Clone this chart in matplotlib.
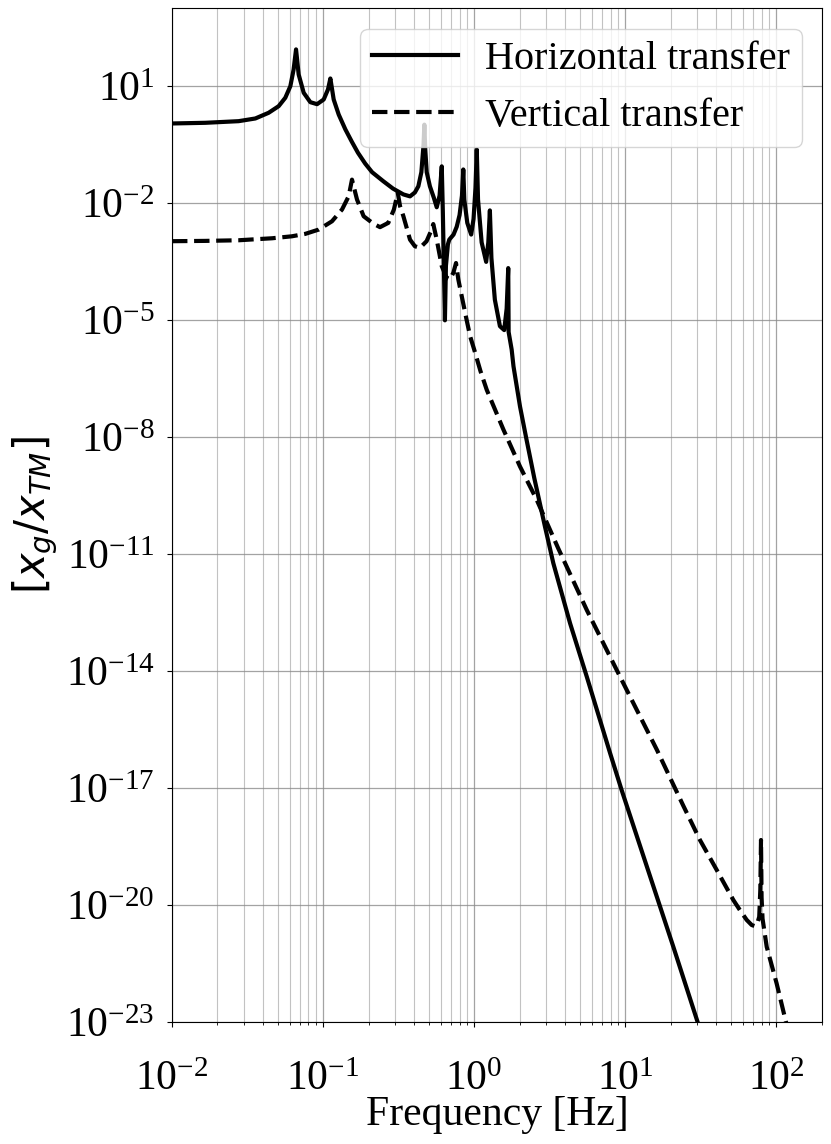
import numpy as np
import matplotlib
matplotlib.use('Agg')
import matplotlib.pyplot as plt
from matplotlib.ticker import NullLocator

plt.rcParams['font.family'] = ['Liberation Serif', 'DejaVu Serif']
plt.rcParams['mathtext.fontset'] = 'dejavusans'

# Horizontal transfer: frequency [Hz] and log10 of magnitude
horiz_freq = [0.01, 0.0166, 0.0276, 0.0356, 0.0436, 0.0508, 0.0562, 0.0607, 0.0638,
              0.0662, 0.0689, 0.0744, 0.0823, 0.0912, 0.1009, 0.1077, 0.1117, 0.1175,
              0.1268, 0.1403, 0.155, 0.17, 0.19, 0.211, 0.25, 0.29, 0.34, 0.376,
              0.405, 0.427, 0.447, 0.462, 0.468, 0.474, 0.485, 0.509, 0.54, 0.565,
              0.59, 0.61, 0.62, 0.64, 0.65, 0.67, 0.684, 0.73, 0.766, 0.80, 0.83,
              0.847, 0.86, 0.90, 0.955, 0.99, 1.02, 1.04, 1.06, 1.12, 1.20, 1.24,
              1.27, 1.30, 1.37, 1.48, 1.58, 1.64, 1.68, 1.69, 1.77, 1.82, 2.01,
              2.22, 2.5, 2.94, 3.34, 4.31, 5.56, 7.93, 9.46, 20.8, 30.0, 40.0]
horiz_log = [0.05, 0.067, 0.109, 0.178, 0.324, 0.494, 0.709, 1.006, 1.435,
             1.95, 1.306, 0.837, 0.596, 0.545, 0.665, 0.922, 1.204, 0.665,
             0.28, -0.10, -0.42, -0.70, -0.98, -1.20, -1.43, -1.62, -1.77, -1.82,
             -1.72, -1.56, -1.2, -0.5, 0.02, -0.6, -1.2, -1.56, -1.85, -2.1,
             -1.8, -1.05, -2.2, -5.0, -3.6, -3.05, -2.93, -2.8, -2.6, -2.3, -1.8,
             -1.13, -1.9, -2.5, -2.8, -2.4, -1.6, -0.62, -1.9, -3.0, -3.5, -3.0,
             -2.18, -3.4, -4.47, -5.15, -5.25, -4.7, -3.66, -5.3, -5.75, -6.18, -7.21,
             -8.06, -9.05, -10.29, -11.23, -12.77, -14.14, -16.1, -17.05, -21.07, -22.98, -24.5]

# Vertical transfer
vert_freq = [0.01, 0.0166, 0.0276, 0.0459, 0.0622, 0.0762, 0.0935, 0.1145, 0.1334,
             0.1477, 0.1553, 0.1676, 0.1855, 0.215, 0.238, 0.27, 0.294, 0.312,
             0.323, 0.34, 0.376, 0.405, 0.438, 0.484, 0.523, 0.536, 0.565, 0.61,
             0.658, 0.69, 0.728, 0.758, 0.785, 0.827, 0.89, 0.94, 1.0, 1.1, 1.21,
             1.56, 2.01, 2.59, 3.6, 5.56, 9.23, 16.2, 24.2, 31.2, 40.3, 51.9, 57.4,
             63.6, 68.6, 72.0, 75.0, 77.0, 78.3, 79.1, 79.8, 81.0, 86.3, 100.4,
             115.6, 130.0]
vert_log = [-2.97, -2.962, -2.946, -2.895, -2.844, -2.782, -2.672, -2.459, -2.158,
            -1.816, -1.39, -1.90, -2.33, -2.52, -2.61, -2.50, -2.16, -1.73,
            -2.07, -2.33, -2.93, -3.10, -3.14, -2.97, -2.67, -2.53, -2.93, -3.61,
            -3.91, -3.95, -3.78, -3.53, -3.95, -4.38, -4.98, -5.41, -5.75, -6.3, -6.78,
            -7.80, -8.75, -9.60, -10.85, -12.43, -14.14, -16.02, -17.45, -18.33, -19.10, -19.87, -20.13,
            -20.38, -20.51, -20.54, -20.45, -20.3, -19.6, -18.33, -19.8, -20.35, -21.07, -22.01,
            -22.99, -23.8]

fig = plt.figure(figsize=(8.31, 11.44), dpi=100)
ax = fig.add_axes([0.207, 0.1066, 0.782, 0.886])

ax.loglog(horiz_freq, 10.0 ** np.array(horiz_log), 'k-', lw=3,
          label='Horizontal transfer')
ax.loglog(vert_freq, 10.0 ** np.array(vert_log), 'k--', lw=3,
          label='Vertical transfer')

ax.set_xlim(1e-2, 2e2)
ax.set_ylim(1e-23, 1e3)
ax.set_yticks([10.0 ** e for e in range(-23, 2, 3)])
ax.yaxis.set_minor_locator(NullLocator())

ax.grid(True, which='major', color='0.55', lw=0.9, alpha=0.8)
ax.grid(True, which='minor', color='0.7', lw=0.8, alpha=0.8)

ax.tick_params(labelsize=30)
ax.tick_params(axis='x', which='major', pad=24)
ax.tick_params(axis='y', which='major', pad=9)
ax.set_xlabel('Frequency [Hz]', fontsize=30, labelpad=-2)
ax.set_ylabel(r'$[x_g/x_{TM}]$', fontsize=30, labelpad=4)
ax.legend(loc='upper right', fontsize=29, handlelength=2.15, handletextpad=0.65,
          borderpad=0.3)

fig.savefig('out.png', dpi=100)
